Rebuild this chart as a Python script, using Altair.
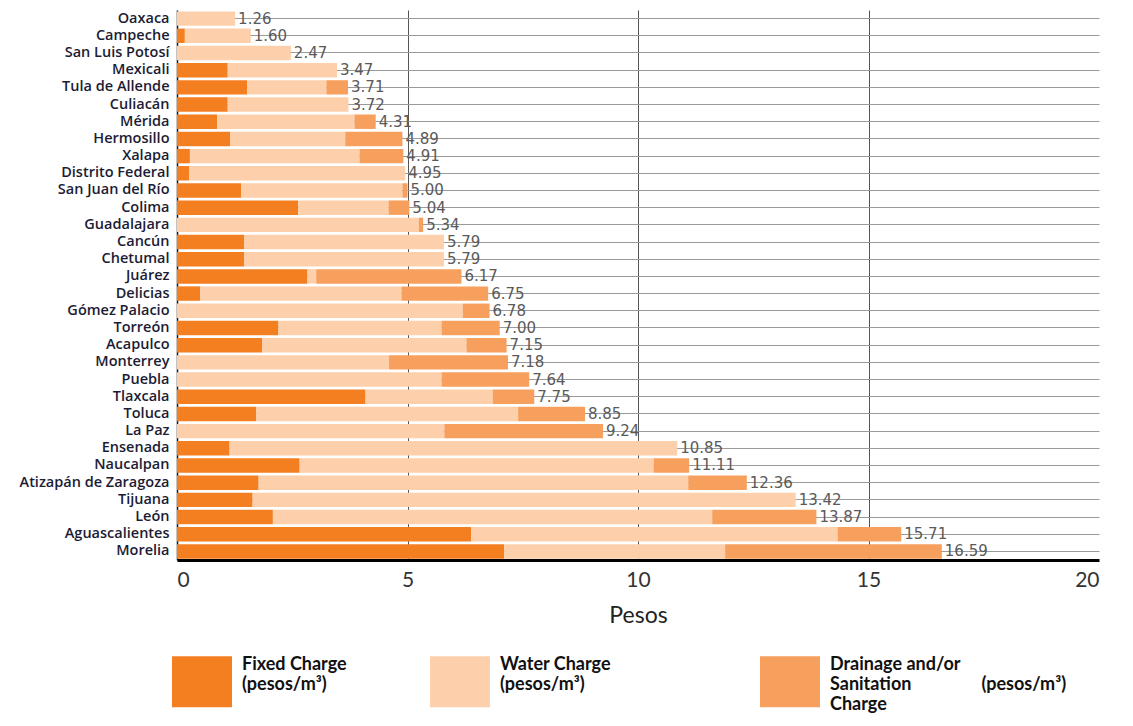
import altair as alt
import pandas as pd

cities = ["Oaxaca", "Campeche", "San Luis Potosí", "Mexicali", "Tula de Allende", "Culiacán",
          "Mérida", "Hermosillo", "Xalapa", "Distrito Federal", "San Juan del Río", "Colima",
          "Guadalajara", "Cancún", "Chetumal", "Juárez", "Delicias", "Gómez Palacio", "Torreón",
          "Acapulco", "Monterrey", "Puebla", "Tlaxcala", "Toluca", "La Paz", "Ensenada",
          "Naucalpan", "Atizapán de Zaragoza", "Tijuana", "León", "Aguascalientes", "Morelia"]
fixed = [0.00, 0.17, 0.00, 1.10, 1.52, 1.10, 0.87, 1.15, 0.28, 0.26, 1.39, 2.63,
         0.00, 1.46, 1.46, 2.83, 0.50, 0.00, 2.20, 1.85, 0.00, 0.00, 4.09, 1.72,
         0.00, 1.14, 2.66, 1.77, 1.64, 2.08, 6.38, 7.10]
water = [1.26, 1.43, 2.47, 2.37, 1.72, 2.62, 2.98, 2.50, 3.68, 4.69, 3.50, 1.96,
         5.25, 4.33, 4.33, 0.19, 4.37, 6.20, 3.54, 4.43, 4.60, 5.74, 2.76, 5.68,
         5.80, 9.71, 7.68, 9.32, 11.78, 9.53, 7.95, 4.79]
drainage = [0.00, 0.00, 0.00, 0.00, 0.47, 0.00, 0.46, 1.24, 0.95, 0.00, 0.11, 0.45,
            0.09, 0.00, 0.00, 3.15, 1.88, 0.58, 1.26, 0.87, 2.58, 1.90, 0.90, 1.45,
            3.44, 0.00, 0.77, 1.27, 0.00, 2.26, 1.38, 4.70]
totals = [1.26, 1.60, 2.47, 3.47, 3.71, 3.72, 4.31, 4.89, 4.91, 4.95, 5.00, 5.04,
          5.34, 5.79, 5.79, 6.17, 6.75, 6.78, 7.00, 7.15, 7.18, 7.64, 7.75, 8.85,
          9.24, 10.85, 11.11, 12.36, 13.42, 13.87, 15.71, 16.59]
components = ["Fixed Charge", "Water Charge", "Drainage and/or Sanitation Charge"]
colors = ["#F47F20", "#FDCFAA", "#F79F5C"]
x_ticks = [0, 5, 10, 15, 20]

rows = []
for i, c in enumerate(cities):
    for k, (comp, vals) in enumerate(zip(components, [fixed, water, drainage])):
        rows.append({"city": c, "component": comp, "value": vals[i], "order": k})
long_df = pd.DataFrame(rows)
tot_df = pd.DataFrame({"city": cities, "total": totals})

NB = "\u00a0"
ZW = "\u200b"
label_expr = (
    "datum.value == 'Fixed Charge' ? ['Fixed Charge', '(pesos/m³)'] : "
    "datum.value == 'Water Charge' ? ['Water Charge" + NB * 15 + ZW + "', '(pesos/m³)'] : "
    "['Drainage and/or', 'Sanitation" + NB * 16 + "(pesos/m³)', 'Charge']"
)

y_enc = alt.Y(
    "city:N", sort=cities, title=None,
    scale=alt.Scale(paddingInner=0.16, paddingOuter=0.08),
    axis=alt.Axis(
        labelFont="Open Sans", labelFontSize=14.5, labelFontWeight=600, labelColor="#1c1c34",
        labelPadding=8, ticks=False, domain=True, domainColor="#111", domainWidth=1.5,
        grid=True, gridColor="#9a9a9a", gridWidth=1,
    ),
)

bars = alt.Chart(long_df).mark_bar().encode(
    y=y_enc,
    x=alt.X(
        "value:Q", stack="zero", title="Pesos",
        scale=alt.Scale(domain=[0, 20], nice=False),
        axis=alt.Axis(
            values=x_ticks, labelFont="Lato", labelFontSize=21, labelColor="#333",
            labelPadding=9, ticks=False, domainColor="#000", domainWidth=3,
            grid=True, gridColor="#555", gridWidth=1,
            gridOpacity={"condition": {"test": "datum.value === 20 || datum.value === 0", "value": 0}, "value": 1},
            titleFont="Lato", titleFontSize=23, titleFontWeight="normal", titleColor="#222",
            titlePadding=14,
        ),
    ),
    color=alt.Color(
        "component:N",
        scale=alt.Scale(domain=components, range=colors),
        legend=alt.Legend(
            title=None, orient="none", legendX=-5, legendY=625, direction="horizontal",
            columns=3, columnPadding=83,
            symbolType="M-1,-0.3H1V1.4H-1Z M0,1.95", symbolSize=3600, symbolStrokeWidth=0,
            symbolOpacity=1,
            labelExpr=label_expr, labelFont="Lato", labelFontSize=18, labelFontWeight="bold",
            labelColor="#111", labelOffset=10, labelLimit=600,
        ),
    ),
    order=alt.Order("order:Q"),
)

labels = alt.Chart(tot_df).mark_text(
    align="left", baseline="middle", dx=3, font="DejaVu Sans", fontSize=15, color="#5a5a5a"
).encode(
    y=alt.Y("city:N", sort=cities),
    x=alt.X("total:Q"),
    text=alt.Text("total:Q", format=".2f"),
)

chart = (bars + labels).properties(
    width=922, height=550,
    autosize=alt.AutoSizeParams(type="none"),
    padding={"left": 169, "right": 26, "top": 2, "bottom": 158},
).configure_view(stroke=None)

chart.save("out.html", embed_options={"renderer": "svg", "actions": False})
